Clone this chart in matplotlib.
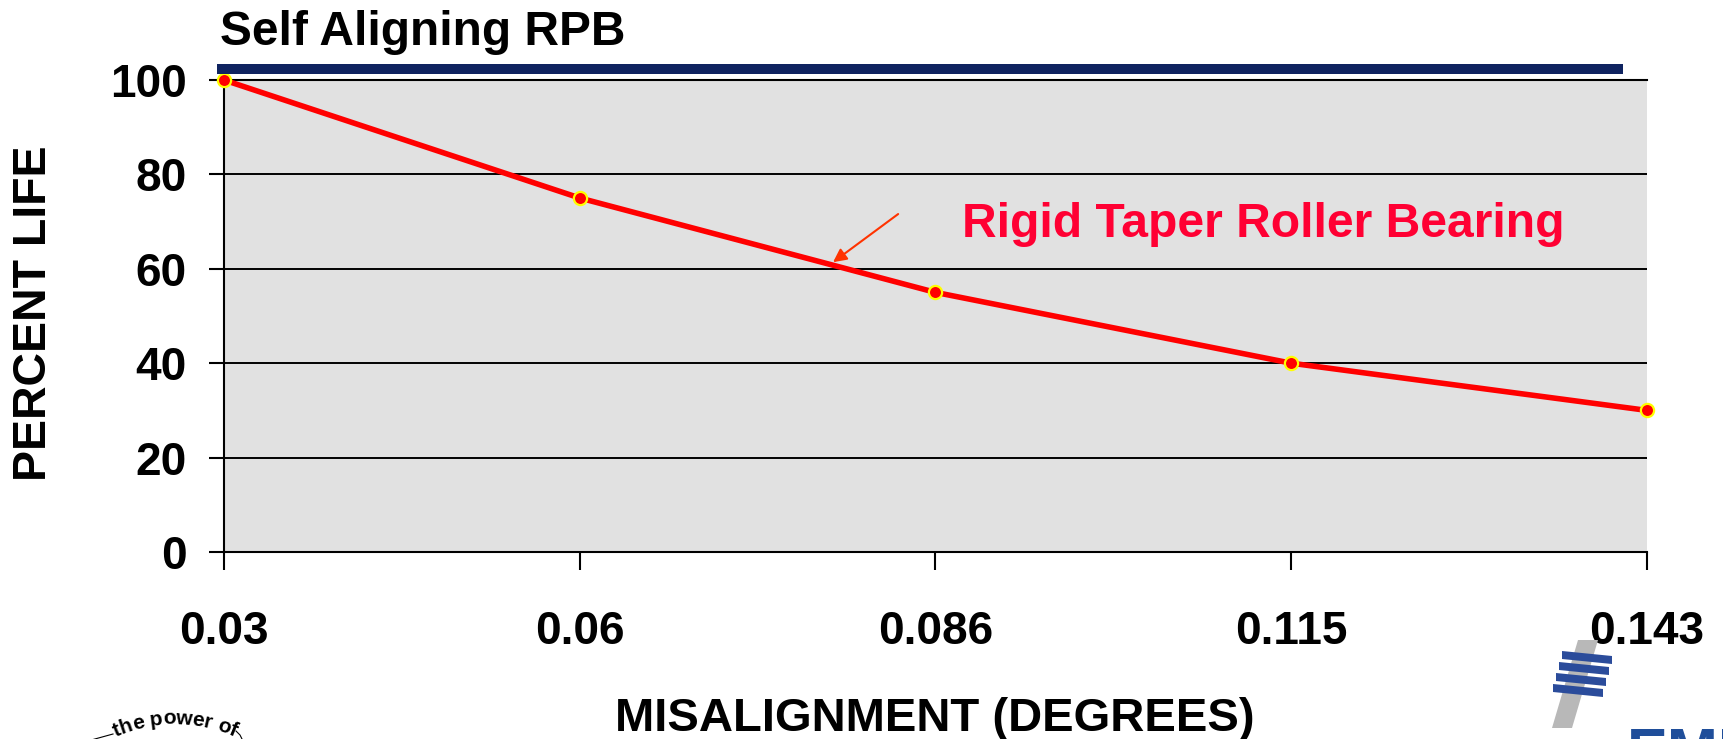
import numpy as np
import matplotlib
matplotlib.use("Agg")
import matplotlib.pyplot as plt
from matplotlib.patches import Polygon, Rectangle
from matplotlib.lines import Line2D

# chart data
misalignment = ["0.03", "0.06", "0.086", "0.115", "0.143"]
percent_life = [100, 75, 55, 40, 30]
y_ticks = [0, 20, 40, 60, 80, 100]

W, H = 1724, 739


def fx(x):
    # pixel x -> figure fraction
    return x / W


def fy(y):
    # pixel y (from top) -> figure fraction
    return 1 - y / H


plt.rcParams["font.family"] = ["Liberation Sans", "DejaVu Sans"]
plt.rcParams["font.weight"] = "bold"

fig = plt.figure(figsize=(W / 100, H / 100), dpi=100)
ax = fig.add_axes([fx(224), fy(552), (1647 - 224) / W, (552 - 80) / H])
ax.set_facecolor("#E1E1E1")

x = np.arange(len(misalignment))
ax.plot(x, percent_life, color="#FF0000", lw=4, marker="o", ms=9.5,
        mfc="#FF0000", mec="#FFFF00", mew=1.6, zorder=3, clip_on=False)

ax.set_xlim(0, len(misalignment) - 1)
ax.set_ylim(0, 100)
ax.set_xticks(x)
ax.set_xticklabels(misalignment, fontsize=33, fontweight="bold")
ax.set_yticks(y_ticks)
ax.set_yticklabels([str(v) for v in y_ticks], fontsize=33, fontweight="bold")
ax.tick_params(axis="x", length=13, width=1.5, pad=29, color="black")
ax.tick_params(axis="y", length=11, width=1.5, pad=16, color="black")
ax.yaxis.grid(True, color="black", lw=1.4)
ax.set_axisbelow(True)
ax.spines["right"].set_visible(False)
for s in ["top", "left", "bottom"]:
    ax.spines[s].set_linewidth(1.5)
    ax.spines[s].set_color("black")

# label + arrow for the curve
ax.text(2.074, 69.3, "Rigid Taper Roller Bearing", color="#FF0033",
        fontsize=34.6, fontweight="bold", ha="left", va="center")
ax.annotate("", xy=(1.712, 61.4), xytext=(1.895, 71.6),
            arrowprops=dict(arrowstyle="-|>", color="#FF3300", lw=1.5,
                            mutation_scale=20, shrinkA=0, shrinkB=0))

# title and the navy bar under it
fig.text(fx(220), fy(45), "Self Aligning RPB", fontsize=34.5, fontweight="bold",
         ha="left", va="baseline")
fig.add_artist(Rectangle((fx(217), fy(74)), (1623 - 217) / W, 10 / H,
                         transform=fig.transFigure, color="#0F2360", lw=0))

fig.text(fx(34), fy(313), "PERCENT LIFE", fontsize=33.5, fontweight="bold",
         rotation=90, ha="center", va="center")
fig.text(fx(935), fy(731), "MISALIGNMENT (DEGREES)", fontsize=34,
         fontweight="bold", ha="center", va="baseline")

# bottom-right logo (partly cut off)
fig.add_artist(Polygon([(fx(1578), fy(640)), (fx(1598), fy(640)),
                        (fx(1572), fy(728)), (fx(1552), fy(728))],
                       closed=True, transform=fig.transFigure,
                       color="#B8B8B8", lw=0))
for i in range(4):
    y0 = 651 + 11 * i
    x0 = 1562 - 3 * i
    pts = [(x0, y0), (x0 + 50, y0 + 5), (x0 + 50, y0 + 13), (x0, y0 + 8)]
    fig.add_artist(Polygon([(fx(a), fy(b)) for a, b in pts], closed=True,
                           transform=fig.transFigure, color="#2B4C9B", lw=0))
fig.text(fx(1627), fy(727), "EMERSON", fontsize=44, fontweight="bold",
         color="#1F4E9A", ha="left", va="top")

# bottom-left "the power of" on an arc
arc_text = "the power of"
char_w = {"t": .333, "h": .611, "e": .556, " ": .278, "p": .611, "o": .611,
          "w": .778, "r": .389, "f": .333}
em = 20.5
r, cx, cy = 146, 175, 870
total = sum(char_w[c] for c in arc_text) * em
s = -total / 2
for c in arc_text:
    w = char_w[c] * em
    theta = (s + w / 2) / r
    px = cx + r * np.sin(theta)
    py = cy - r * np.cos(theta)
    fig.text(fx(px), fy(py), c, fontsize=15, fontweight="bold", ha="center",
             va="baseline", rotation=-np.degrees(theta), rotation_mode="anchor")
    s += w
fig.add_artist(Line2D([fx(84), fx(113)], [fy(742), fy(734)], color="black",
                      lw=0.8, transform=fig.transFigure))
fig.add_artist(Line2D([fx(236), fx(240), fx(242)], [fy(731), fy(735), fy(739)],
                      color="black", lw=0.8, transform=fig.transFigure))

fig.savefig("out.png", dpi=100)
